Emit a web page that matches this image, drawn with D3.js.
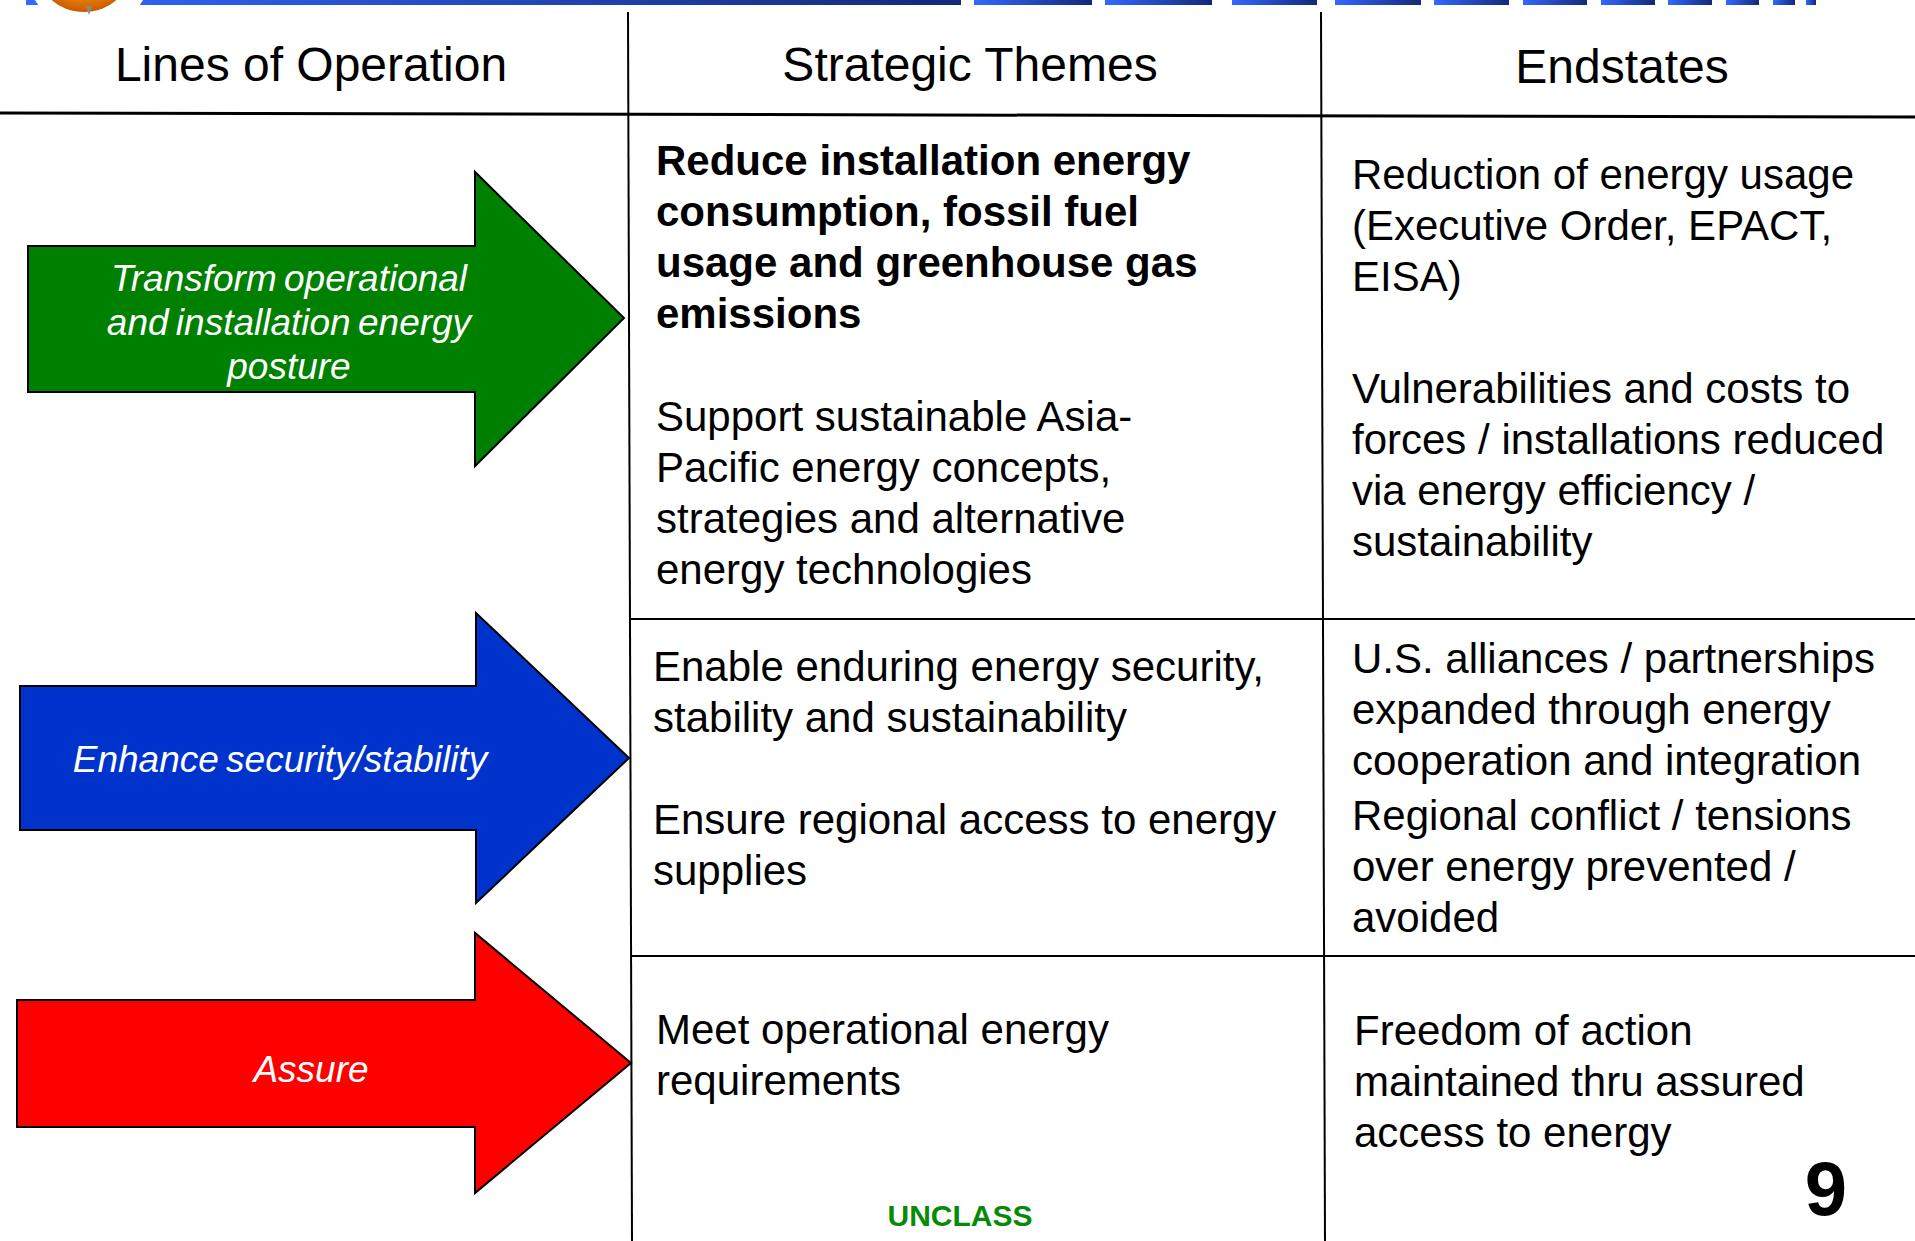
<!DOCTYPE html>
<html>
<head>
<meta charset="utf-8">
<script src="https://cdn.jsdelivr.net/npm/d3@7"></script>
<style>
  html, body { margin: 0; padding: 0; background: #fff; }
  svg { display: block; }
  text { font-family: "Liberation Sans", Arial, Helvetica, sans-serif; }
</style>
</head>
<body>
<script>
// ---- content ----
var headers = ["Lines of Operation", "Strategic Themes", "Endstates"];

var lineNames = [
  ["Transform operational", "and installation energy", "posture"],
  ["Enhance security/stability"],
  ["Assure"]
];
var lineColors = ["#008000", "#0033cc", "#ff0000"];

// strategic themes, one entry per row, each a list of paragraphs
var themes = [
  [["Reduce installation energy", "consumption, fossil fuel", "usage and greenhouse gas", "emissions"],
   ["Support sustainable Asia-", "Pacific energy concepts,", "strategies and alternative", "energy technologies"]],
  [["Enable enduring energy security,", "stability and sustainability"],
   ["Ensure regional access to energy", "supplies"]],
  [["Meet operational energy", "requirements"]]
];
var themeBold = [[true, false], [false, false], [false]];

var endstates = [
  [["Reduction of energy usage", "(Executive Order, EPACT,", "EISA)"],
   ["Vulnerabilities and costs to", "forces / installations reduced", "via energy efficiency /", "sustainability"]],
  [["U.S. alliances / partnerships", "expanded through energy", "cooperation and integration"],
   ["Regional conflict / tensions", "over energy prevented /", "avoided"]],
  [["Freedom of action", "maintained thru assured", "access to energy"]]
];

var footerText = "UNCLASS";
var pageNumber = "9";

// ---- layout ----
var W = 1915, H = 1241;
var lineH = 51;

var colRules = [[628, 632], [1321, 1325]];      // x at top / bottom
var headerRule = [113, 117];
var rowRules = [619, 956];
var headerCx = [311, 970, 1622];
var headerBase = [81, 81, 83];

var themeX = [656, 653, 656];
var themeY = [[175, 431], [681, 834], [1044]];
var endX = [1352, 1352, 1354];
var endY = [[189, 403], [673, 830], [1045]];

// arrow shapes: body left/top/bottom, head base x, head top/bottom, tip
var arrowGeom = [
  {x0: 28, y0: 246, y1: 392, hx: 475, hy0: 172, hy1: 466, tx: 624, ty: 318},
  {x0: 20, y0: 686, y1: 830, hx: 476, hy0: 613, hy1: 903, tx: 629, ty: 758},
  {x0: 17, y0: 1000, y1: 1127, hx: 475, hy0: 933, hy1: 1193, tx: 631, ty: 1063}
];
var arrowTextX = [289, 280, 311];
var arrowTextY = [291, 772, 1082];
var arrowLineH = 44;

// decorative top banner segments
var bannerSegs = [[26, 961], [974, 1092], [1105, 1212], [1232, 1317], [1335, 1421],
  [1434, 1509], [1523, 1587], [1601, 1655], [1668, 1712], [1726, 1759],
  [1773, 1795], [1806, 1816]];

var svg = d3.select("body").append("svg")
  .attr("width", W)
  .attr("height", H);

var defs = svg.append("defs");
var bg = defs.append("linearGradient").attr("id", "bannerGrad");
bg.append("stop").attr("offset", "0%").attr("stop-color", "#3369ff");
bg.append("stop").attr("offset", "100%").attr("stop-color", "#142878");

var og = defs.append("radialGradient").attr("id", "logoGrad")
  .attr("cx", "50%").attr("cy", "40%").attr("r", "60%");
og.append("stop").attr("offset", "0%").attr("stop-color", "#ffc030");
og.append("stop").attr("offset", "70%").attr("stop-color", "#f08a10");
og.append("stop").attr("offset", "100%").attr("stop-color", "#c85a00");

// banner
svg.append("g").selectAll("rect")
  .data(bannerSegs)
  .enter().append("rect")
    .attr("x", function(d) { return d[0]; })
    .attr("y", 0)
    .attr("width", function(d) { return d[1] - d[0]; })
    .attr("height", 5)
    .attr("fill", "url(#bannerGrad)");

// logo stub
svg.append("circle").attr("cx", 89).attr("cy", -34).attr("r", 64).attr("fill", "#fff");
svg.append("circle").attr("cx", 84).attr("cy", -38).attr("r", 50).attr("fill", "url(#logoGrad)");
svg.append("path").attr("d", "M86,6 L92,6 L89,15 Z").attr("fill", "#8a8a8a");

// grid rules
var rules = svg.append("g").attr("stroke", "#000").attr("fill", "none");
rules.selectAll(".col")
  .data(colRules)
  .enter().append("line")
    .attr("class", "col")
    .attr("x1", function(d) { return d[0]; })
    .attr("y1", 12)
    .attr("x2", function(d) { return d[1]; })
    .attr("y2", H)
    .attr("stroke-width", 2);

rules.append("line")
  .attr("x1", 0).attr("y1", headerRule[0])
  .attr("x2", W).attr("y2", headerRule[1])
  .attr("stroke-width", 3);

rules.selectAll(".row")
  .data(rowRules)
  .enter().append("line")
    .attr("class", "row")
    .attr("x1", function(d, i) { return colRules[0][0] + 1 + i * 2; })
    .attr("y1", function(d) { return d; })
    .attr("x2", W)
    .attr("y2", function(d) { return d; })
    .attr("stroke-width", 2);

// headers
svg.append("g").selectAll("text")
  .data(headers)
  .enter().append("text")
    .attr("x", function(d, i) { return headerCx[i]; })
    .attr("y", function(d, i) { return headerBase[i]; })
    .attr("text-anchor", "middle")
    .attr("font-size", 48)
    .attr("fill", "#000")
    .text(function(d) { return d; });

// arrows
function arrowPath(g) {
  return "M" + g.x0 + "," + g.y0 +
    " L" + g.hx + "," + g.y0 +
    " L" + g.hx + "," + g.hy0 +
    " L" + g.tx + "," + g.ty +
    " L" + g.hx + "," + g.hy1 +
    " L" + g.hx + "," + g.y1 +
    " L" + g.x0 + "," + g.y1 + " Z";
}

var arrows = svg.append("g").selectAll("g")
  .data(lineNames)
  .enter().append("g");

arrows.append("path")
  .attr("d", function(d, i) { return arrowPath(arrowGeom[i]); })
  .attr("fill", function(d, i) { return lineColors[i]; })
  .attr("stroke", "#000")
  .attr("stroke-width", 2)
  .attr("stroke-linejoin", "miter");

arrows.append("text")
  .attr("text-anchor", "middle")
  .attr("font-size", 37)
  .attr("font-style", "italic")
  .attr("fill", "#fff")
  .attr("word-spacing", -3)
  .each(function(d, i) {
    var t = d3.select(this);
    d.forEach(function(line, j) {
      t.append("tspan")
        .attr("x", arrowTextX[i])
        .attr("y", arrowTextY[i] + j * arrowLineH)
        .text(line);
    });
  });

// cell text
function drawCell(paragraphs, x, ys, bold) {
  var g = svg.append("g");
  paragraphs.forEach(function(p, k) {
    var t = g.append("text")
      .attr("font-size", 42)
      .attr("fill", "#000")
      .attr("font-weight", bold && bold[k] ? "bold" : "normal");
    p.forEach(function(line, j) {
      t.append("tspan")
        .attr("x", x)
        .attr("y", ys[k] + j * lineH)
        .text(line);
    });
  });
}

themes.forEach(function(row, i) { drawCell(row, themeX[i], themeY[i], themeBold[i]); });
endstates.forEach(function(row, i) { drawCell(row, endX[i], endY[i], null); });

// footer
svg.append("text")
  .attr("x", 960).attr("y", 1226)
  .attr("text-anchor", "middle")
  .attr("font-size", 30)
  .attr("font-weight", "bold")
  .attr("fill", "#078a07")
  .text(footerText);

svg.append("text")
  .attr("x", 1826).attr("y", 1215)
  .attr("text-anchor", "middle")
  .attr("font-size", 76)
  .attr("font-weight", "bold")
  .attr("fill", "#000")
  .text(pageNumber);
</script>
</body>
</html>
